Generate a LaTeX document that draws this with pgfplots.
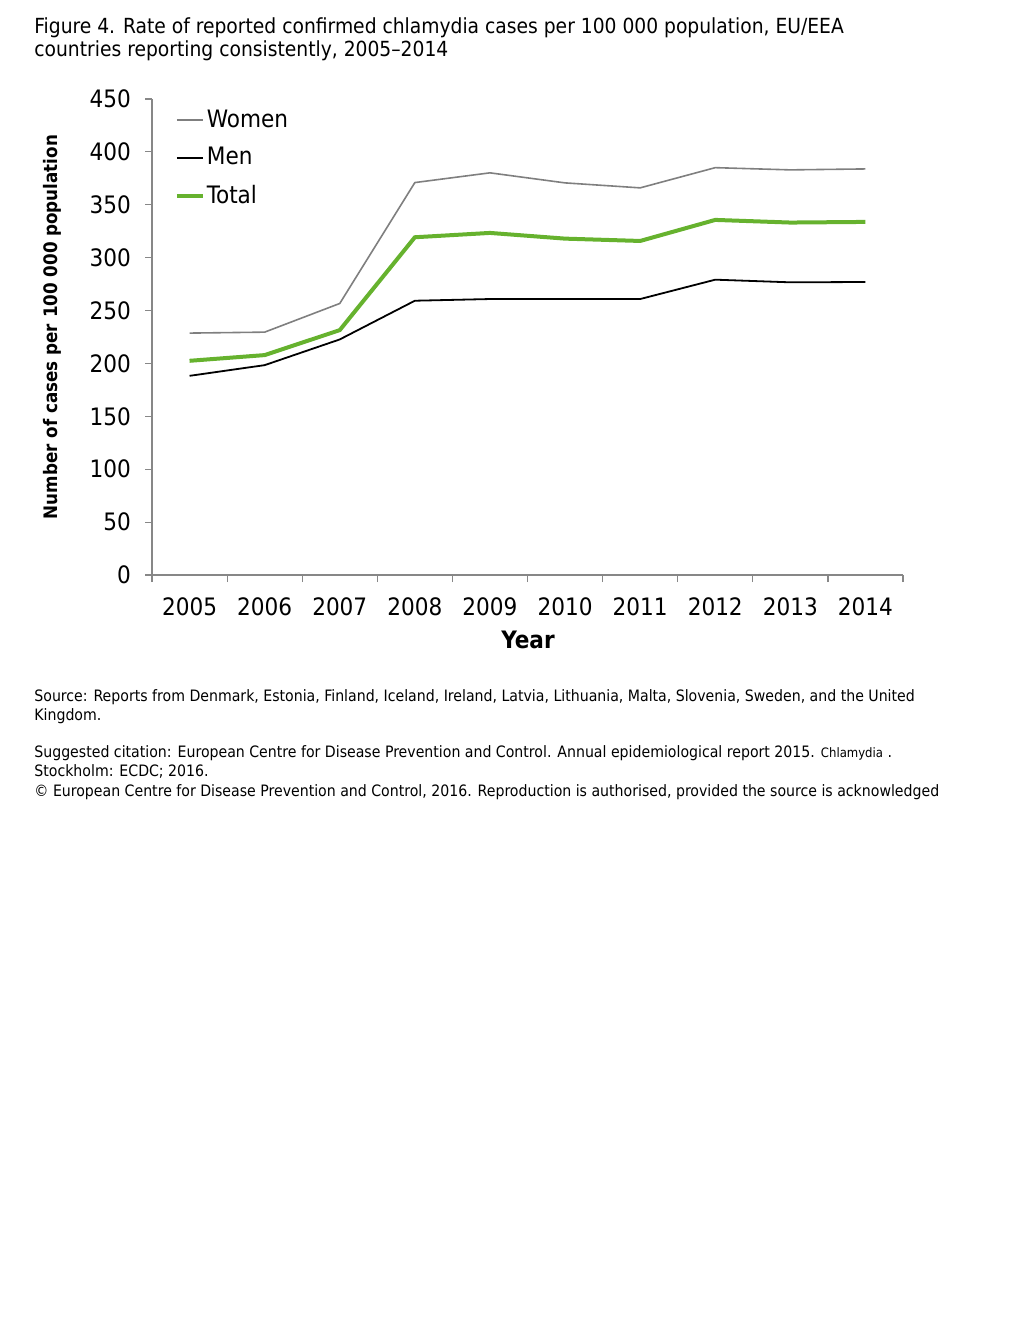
\documentclass[border=0pt]{standalone}
\usepackage{fontspec}
\setmainfont{DejaVu Sans Condensed}
\usepackage{pgfplots}
\pgfplotsset{compat=1.18}
\definecolor{ecdcgreen}{HTML}{66B22E}
\definecolor{womengray}{HTML}{7F7F7F}
\definecolor{axisgray}{HTML}{878787}

\begin{document}
\begin{tikzpicture}
\path[use as bounding box] (0,0) rectangle (504pt,-672pt);

% title
\node[anchor=base west, inner sep=0, font=\fontsize{10.4}{12}\selectfont] at (17pt,-16.5pt)
  {Figure 4. Rate of reported confirmed chlamydia cases per 100 000 population, EU/EEA};
\node[anchor=base west, inner sep=0, font=\fontsize{10.4}{12}\selectfont] at (17pt,-28pt)
  {countries reporting consistently, 2005–2014};

\begin{axis}[
    at={(76pt,-287.5pt)}, anchor=south west,
    scale only axis,
    width=375.5pt, height=238pt,
    xmin=-0.5, xmax=9.5,
    ymin=0, ymax=450,
    axis lines=left,
    axis line style={-, draw=axisgray, line width=0.6pt},
    xtick={0,...,9},
    xticklabels={2005,2006,2007,2008,2009,2010,2011,2012,2013,2014},
    minor xtick={-0.5,0.5,...,9.5},
    major x tick style={draw=none},
    ytick={0,50,...,450},
    tick align=outside,
    major tick length=3.5pt,
    minor tick length=3.5pt,
    tick style={draw=axisgray, line width=0.6pt},
    ticklabel style={font=\fontsize{12}{14}\selectfont},
    /pgf/number format/assume math mode=true,
    /pgf/number format/1000 sep={},
    xticklabel style={yshift=-4.5pt},
    yticklabel style={xshift=-3.5pt},
    legend style={at={(0.03,0.982)}, anchor=north west, draw=none, fill=none,
        font=\fontsize{12}{14}\selectfont, row sep=6.5pt, inner sep=0pt,
        nodes={inner sep=1pt}},
    legend cell align=left,
    legend image code/.code={\draw[#1] (0pt,0pt) -- (13pt,0pt);},
]
\addplot[womengray, line width=0.8pt] coordinates {
    (0,228.7) (1,229.6) (2,256.7) (3,371.0) (4,380.2)
    (5,370.7) (6,366.0) (7,385.1) (8,383.0) (9,383.9)};
\addlegendentry{Women}
\addplot[black, line width=0.9pt] coordinates {
    (0,188.3) (1,198.4) (2,222.7) (3,259.3) (4,260.9)
    (5,260.9) (6,260.9) (7,279.2) (8,276.7) (9,277.0)};
\addlegendentry{Men}
\addplot[ecdcgreen, line width=2pt] coordinates {
    (0,202.5) (1,207.9) (2,231.5) (3,319.3) (4,323.4)
    (5,318.0) (6,315.8) (7,335.7) (8,333.2) (9,333.8)};
\addlegendentry{Total}
\end{axis}

% axis titles
\node[rotate=90, font=\bfseries\fontsize{9.3}{11}\selectfont] at (26pt,-163.5pt)
  {Number of cases per 100 000 population};
\node[font=\bfseries\fontsize{12}{14}\selectfont] at (264pt,-320pt) {Year};

% notes
\begin{scope}[every node/.style={anchor=base west, inner sep=0, font=\fontsize{7.85}{9}\selectfont}]
\node at (17pt,-350.5pt) {Source: Reports from Denmark, Estonia, Finland, Iceland, Ireland, Latvia, Lithuania, Malta, Slovenia, Sweden, and the United};
\node at (17pt,-360pt) {Kingdom.};
\node at (17pt,-378.7pt) {Suggested citation: European Centre for Disease Prevention and Control. Annual epidemiological report 2015. {\fontsize{6.5}{8}\selectfont Chlamydia} .};
\node at (17pt,-388.3pt) {Stockholm: ECDC; 2016.};
\node at (17pt,-398.3pt) {© European Centre for Disease Prevention and Control, 2016. Reproduction is authorised, provided the source is acknowledged};
\end{scope}
\end{tikzpicture}
\end{document}
